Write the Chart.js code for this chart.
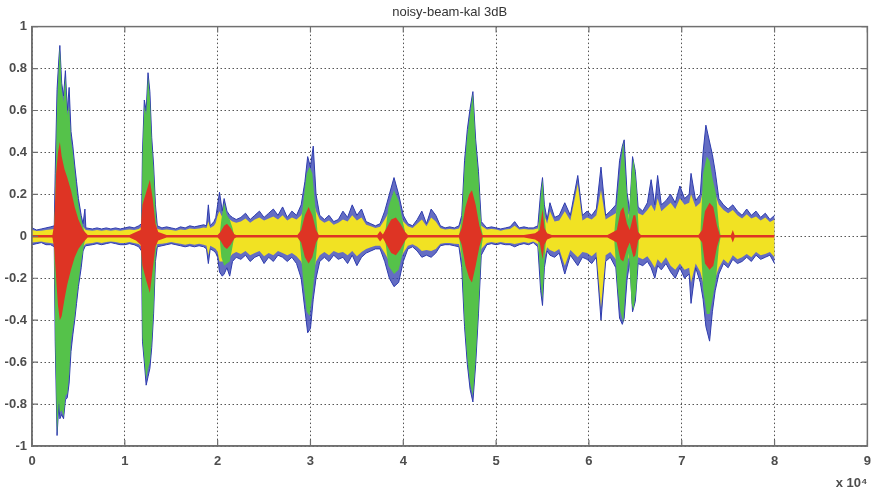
<!DOCTYPE html>
<html>
<head>
<meta charset="utf-8">
<title>noisy-beam-kal 3dB</title>
<script src="https://cdn.jsdelivr.net/npm/chart.js@4.4.0/dist/chart.umd.min.js"></script>
<style>
  html, body { margin: 0; padding: 0; background: #fff; }
  #wrap { width: 874px; height: 491px; }
</style>
</head>
<body>
<div id="wrap"><canvas id="beamChart" width="874" height="491"></canvas></div>
<script>
// Axis ticks (x in units of 10^4 samples)
const xTicks = [0, 1, 2, 3, 4, 5, 6, 7, 8, 9];
const yTicks = [-1, -0.8, -0.6, -0.4, -0.2, 0, 0.2, 0.4, 0.6, 0.8, 1];
const yTickLabels = ['-1', '-0.8', '-0.6', '-0.4', '-0.2', '0', '0.2', '0.4', '0.6', '0.8', '1'];

// Noisy input (blue) and beamformed (yellow) envelopes
const noiseX = [
  0, 0.05, 0.10, 0.15, 0.20, 0.24, 0.25, 0.27, 0.29, 0.30,
  0.32, 0.34, 0.36, 0.38, 0.40, 0.42, 0.44, 0.46, 0.48, 0.50,
  0.53, 0.55, 0.57, 0.58, 0.65, 0.70, 0.75, 0.80, 0.85, 0.90,
  0.95, 1.00, 1.05, 1.10, 1.15, 1.18, 1.19, 1.21, 1.23, 1.25,
  1.27, 1.29, 1.31, 1.33, 1.35, 1.40, 1.45, 1.50, 1.55, 1.60,
  1.65, 1.70, 1.75, 1.80, 1.85, 1.88, 1.90, 1.92, 1.96, 1.98,
  2.00, 2.02, 2.05, 2.07, 2.10, 2.13, 2.16, 2.20, 2.25, 2.30,
  2.35, 2.40, 2.45, 2.50, 2.55, 2.60, 2.65, 2.70, 2.75, 2.80,
  2.85, 2.90, 2.94, 2.97, 3.00, 3.03, 3.06, 3.10, 3.15, 3.20,
  3.25, 3.30, 3.35, 3.40, 3.45, 3.50, 3.55, 3.60, 3.65, 3.70,
  3.75, 3.80, 3.85, 3.90, 3.95, 4.00, 4.05, 4.10, 4.15, 4.20,
  4.25, 4.30, 4.35, 4.40, 4.45, 4.50, 4.55, 4.60, 4.63, 4.66,
  4.69, 4.72, 4.75, 4.78, 4.81, 4.84, 4.90, 4.95, 5.00, 5.05,
  5.10, 5.15, 5.20, 5.25, 5.30, 5.35, 5.40, 5.45, 5.48, 5.50,
  5.52, 5.55, 5.58, 5.63, 5.68, 5.74, 5.80, 5.88, 5.93, 5.98,
  6.03, 6.08, 6.13, 6.18, 6.23, 6.29, 6.33, 6.36, 6.38, 6.41,
  6.44, 6.47, 6.50, 6.53, 6.58, 6.63, 6.67, 6.71, 6.74, 6.78,
  6.83, 6.88, 6.93, 6.98, 7.03, 7.08, 7.10, 7.15, 7.20, 7.23,
  7.26, 7.30, 7.33, 7.36, 7.40, 7.45, 7.50, 7.55, 7.60, 7.65,
  7.70, 7.75, 7.80, 7.85, 7.90, 7.95, 8.00
];
const blueHi = [
  0.04, 0.03, 0.035, 0.04, 0.045, 0.05, 0.3, 0.7, 0.85, 0.91,
  0.73, 0.67, 0.79, 0.6, 0.71, 0.5, 0.43, 0.34, 0.26, 0.18,
  0.1, 0.06, 0.13, 0.04, 0.035, 0.04, 0.035, 0.04, 0.035, 0.04,
  0.035, 0.04, 0.045, 0.04, 0.05, 0.06, 0.4, 0.65, 0.6, 0.78,
  0.69, 0.47, 0.34, 0.15, 0.05, 0.04, 0.045, 0.04, 0.035, 0.045,
  0.04, 0.05, 0.045, 0.05, 0.055, 0.05, 0.15, 0.05, 0.07, 0.09,
  0.15, 0.21, 0.12, 0.18, 0.12, 0.1, 0.09, 0.08, 0.09, 0.11,
  0.08, 0.1, 0.12, 0.09, 0.11, 0.13, 0.1, 0.14, 0.09, 0.12,
  0.1, 0.15, 0.26, 0.38, 0.33, 0.43, 0.2, 0.1, 0.08, 0.1,
  0.07, 0.08, 0.12, 0.09, 0.15, 0.1, 0.13, 0.07, 0.06, 0.05,
  0.06, 0.12, 0.2, 0.28, 0.2, 0.1, 0.06, 0.05, 0.08, 0.12,
  0.06, 0.13, 0.1, 0.05, 0.04, 0.045, 0.04, 0.05, 0.1, 0.36,
  0.51, 0.61, 0.69, 0.46, 0.31, 0.07, 0.04, 0.045, 0.04, 0.035,
  0.04, 0.045, 0.07, 0.04, 0.045, 0.04, 0.04, 0.05, 0.21, 0.28,
  0.15, 0.08, 0.16, 0.09, 0.1, 0.16, 0.1, 0.29, 0.1, 0.12,
  0.1, 0.13, 0.33, 0.1, 0.12, 0.15, 0.36, 0.43, 0.46, 0.21,
  0.12, 0.38, 0.31, 0.14, 0.12, 0.16, 0.27, 0.15, 0.29, 0.15,
  0.17, 0.2, 0.16, 0.24, 0.18, 0.2, 0.3, 0.17, 0.2, 0.4,
  0.53, 0.45, 0.39, 0.31, 0.18, 0.15, 0.13, 0.15, 0.12, 0.1,
  0.13, 0.1, 0.12, 0.09, 0.11, 0.08, 0.1
];
const blueLo = [
  -0.04, -0.035, -0.03, -0.04, -0.04, -0.05, -0.5, -0.95, -0.8, -0.87,
  -0.85, -0.87, -0.78, -0.77, -0.7, -0.55, -0.47, -0.4, -0.32, -0.24,
  -0.15, -0.07, -0.05, -0.045, -0.04, -0.035, -0.04, -0.035, -0.03, -0.035,
  -0.04, -0.04, -0.035, -0.04, -0.05, -0.07, -0.5, -0.6, -0.71, -0.67,
  -0.63, -0.53, -0.37, -0.12, -0.05, -0.045, -0.04, -0.035, -0.04, -0.045,
  -0.05, -0.045, -0.05, -0.045, -0.05, -0.06, -0.13, -0.06, -0.07, -0.08,
  -0.1, -0.17, -0.19, -0.18, -0.15, -0.19, -0.12, -0.1, -0.11, -0.09,
  -0.12, -0.1, -0.09, -0.13, -0.1, -0.12, -0.09, -0.1, -0.12, -0.1,
  -0.13, -0.2, -0.35, -0.46, -0.44, -0.3, -0.2, -0.12, -0.1, -0.12,
  -0.09, -0.11, -0.1, -0.13, -0.09, -0.14, -0.1, -0.08, -0.07, -0.06,
  -0.06, -0.12, -0.2, -0.24, -0.22, -0.12, -0.06, -0.05, -0.07, -0.1,
  -0.09, -0.1, -0.08, -0.045, -0.04, -0.04, -0.045, -0.05, -0.15, -0.43,
  -0.61, -0.73, -0.79, -0.61, -0.37, -0.09, -0.04, -0.035, -0.04, -0.035,
  -0.04, -0.04, -0.05, -0.04, -0.035, -0.04, -0.03, -0.05, -0.26, -0.33,
  -0.15, -0.07, -0.09, -0.1, -0.08, -0.18, -0.09, -0.14, -0.1, -0.11,
  -0.13, -0.1, -0.4, -0.12, -0.1, -0.15, -0.39, -0.42, -0.39, -0.21,
  -0.12, -0.36, -0.31, -0.13, -0.14, -0.12, -0.15, -0.2, -0.14, -0.16,
  -0.13, -0.17, -0.2, -0.15, -0.2, -0.18, -0.32, -0.15, -0.22, -0.3,
  -0.43, -0.5, -0.36, -0.26, -0.18, -0.13, -0.15, -0.11, -0.13, -0.12,
  -0.1, -0.12, -0.09, -0.11, -0.1, -0.09, -0.13
];
const yellowHi = [
  0.03, 0.025, 0.027, 0.03, 0.033, 0.035, 0.15, 0.4, 0.5, 0.5,
  0.45, 0.4, 0.4, 0.35, 0.35, 0.3, 0.25, 0.2, 0.15, 0.1,
  0.06, 0.045, 0.035, 0.03, 0.027, 0.03, 0.027, 0.03, 0.027, 0.03,
  0.027, 0.03, 0.033, 0.03, 0.035, 0.045, 0.2, 0.3, 0.3, 0.35,
  0.3, 0.25, 0.18, 0.08, 0.035, 0.03, 0.033, 0.03, 0.027, 0.033,
  0.03, 0.037, 0.035, 0.037, 0.042, 0.04, 0.07, 0.04, 0.05, 0.065,
  0.1, 0.12, 0.09, 0.12, 0.09, 0.08, 0.07, 0.065, 0.07, 0.085,
  0.065, 0.08, 0.09, 0.075, 0.085, 0.095, 0.08, 0.1, 0.075, 0.09,
  0.08, 0.1, 0.14, 0.17, 0.17, 0.17, 0.12, 0.08, 0.065, 0.075,
  0.055, 0.065, 0.08, 0.07, 0.1, 0.075, 0.09, 0.055, 0.048, 0.04,
  0.045, 0.08, 0.12, 0.14, 0.12, 0.07, 0.048, 0.04, 0.06, 0.08,
  0.048, 0.09, 0.07, 0.038, 0.032, 0.035, 0.032, 0.037, 0.07, 0.17,
  0.22, 0.27, 0.27, 0.22, 0.17, 0.05, 0.032, 0.035, 0.032, 0.027,
  0.032, 0.035, 0.05, 0.032, 0.035, 0.032, 0.032, 0.037, 0.12, 0.14,
  0.1, 0.06, 0.12, 0.07, 0.075, 0.12, 0.075, 0.25, 0.075, 0.09,
  0.08, 0.1, 0.22, 0.08, 0.095, 0.11, 0.17, 0.17, 0.17, 0.12,
  0.095, 0.14, 0.14, 0.11, 0.1, 0.125, 0.15, 0.12, 0.18, 0.12,
  0.14, 0.16, 0.13, 0.18, 0.15, 0.16, 0.2, 0.14, 0.16, 0.22,
  0.27, 0.27, 0.24, 0.2, 0.15, 0.125, 0.11, 0.125, 0.1, 0.085,
  0.105, 0.085, 0.095, 0.075, 0.09, 0.068, 0.08
];
const yellowLo = [
  -0.03, -0.027, -0.025, -0.03, -0.032, -0.035, -0.3, -0.6, -0.5, -0.5,
  -0.5, -0.5, -0.45, -0.4, -0.35, -0.3, -0.25, -0.2, -0.15, -0.12,
  -0.08, -0.05, -0.04, -0.035, -0.032, -0.027, -0.032, -0.027, -0.025, -0.027,
  -0.032, -0.032, -0.027, -0.032, -0.037, -0.05, -0.25, -0.3, -0.35, -0.35,
  -0.3, -0.25, -0.18, -0.07, -0.037, -0.035, -0.032, -0.027, -0.032, -0.035,
  -0.04, -0.035, -0.04, -0.035, -0.04, -0.045, -0.09, -0.045, -0.055, -0.06,
  -0.075, -0.12, -0.12, -0.12, -0.1, -0.1, -0.085, -0.075, -0.085, -0.07,
  -0.09, -0.08, -0.07, -0.095, -0.08, -0.09, -0.07, -0.08, -0.09, -0.08,
  -0.095, -0.12, -0.17, -0.22, -0.22, -0.17, -0.12, -0.09, -0.075, -0.09,
  -0.07, -0.08, -0.075, -0.09, -0.07, -0.095, -0.075, -0.06, -0.052, -0.045,
  -0.045, -0.08, -0.12, -0.14, -0.12, -0.08, -0.045, -0.038, -0.05, -0.07,
  -0.065, -0.07, -0.06, -0.035, -0.032, -0.032, -0.035, -0.037, -0.1, -0.22,
  -0.27, -0.32, -0.32, -0.27, -0.17, -0.06, -0.032, -0.027, -0.032, -0.027,
  -0.032, -0.032, -0.037, -0.032, -0.027, -0.032, -0.025, -0.037, -0.14, -0.16,
  -0.1, -0.052, -0.065, -0.075, -0.06, -0.14, -0.065, -0.1, -0.075, -0.08,
  -0.095, -0.075, -0.34, -0.09, -0.075, -0.11, -0.17, -0.17, -0.17, -0.12,
  -0.09, -0.14, -0.14, -0.1, -0.11, -0.095, -0.12, -0.15, -0.11, -0.13,
  -0.1, -0.14, -0.16, -0.13, -0.16, -0.15, -0.22, -0.13, -0.17, -0.22,
  -0.27, -0.32, -0.25, -0.2, -0.15, -0.11, -0.13, -0.09, -0.11, -0.1,
  -0.085, -0.1, -0.075, -0.09, -0.085, -0.075, -0.1
];

// Green bursts (speech segments)
const greenX = [
  0, 0.22, 0.24, 0.25, 0.27, 0.29, 0.30, 0.32, 0.34, 0.36,
  0.38, 0.40, 0.42, 0.44, 0.46, 0.48, 0.50, 0.53, 0.56, 0.58,
  1.15, 1.18, 1.19, 1.21, 1.23, 1.25, 1.27, 1.29, 1.31, 1.33,
  1.35, 2.02, 2.04, 2.07, 2.10, 2.13, 2.16, 2.18, 2.88, 2.92,
  2.96, 2.99, 3.02, 3.05, 3.08, 3.80, 3.84, 3.90, 3.95, 4.00,
  4.03, 4.60, 4.63, 4.66, 4.69, 4.72, 4.75, 4.78, 4.81, 4.84,
  4.86, 5.45, 5.48, 5.50, 5.52, 5.54, 6.27, 6.31, 6.34, 6.37,
  6.40, 6.43, 6.46, 6.48, 6.51, 6.54, 7.20, 7.23, 7.27, 7.30,
  7.33, 7.37, 7.40, 7.42, 8.00
];
const greenHi = [
  0, 0, 0.03, 0.2, 0.62, 0.82, 0.9, 0.7, 0.64, 0.76,
  0.58, 0.62, 0.46, 0.4, 0.31, 0.22, 0.15, 0.08, 0.03, 0,
  0, 0.03, 0.38, 0.62, 0.58, 0.76, 0.66, 0.44, 0.31, 0.13,
  0, 0, 0.08, 0.16, 0.1, 0.08, 0.04, 0, 0, 0.15,
  0.3, 0.33, 0.3, 0.15, 0, 0, 0.14, 0.22, 0.17, 0.06,
  0, 0, 0.08, 0.32, 0.48, 0.58, 0.68, 0.43, 0.28, 0.04,
  0, 0, 0.18, 0.27, 0.12, 0, 0, 0.2, 0.33, 0.45,
  0.25, 0.08, 0.3, 0.37, 0.25, 0, 0, 0.3, 0.38, 0.36,
  0.28, 0.2, 0.05, 0, 0
];
const greenLo = [
  0, 0, -0.03, -0.48, -0.94, -0.78, -0.84, -0.83, -0.86, -0.76,
  -0.75, -0.66, -0.5, -0.44, -0.38, -0.29, -0.22, -0.12, -0.04, 0,
  0, -0.05, -0.48, -0.58, -0.68, -0.63, -0.6, -0.5, -0.34, -0.1,
  0, 0, -0.1, -0.14, -0.13, -0.12, -0.05, 0, 0, -0.2,
  -0.36, -0.38, -0.28, -0.15, 0, 0, -0.14, -0.18, -0.16, -0.07,
  0, 0, -0.1, -0.4, -0.58, -0.7, -0.76, -0.58, -0.34, -0.06,
  0, 0, -0.22, -0.3, -0.12, 0, 0, -0.25, -0.36, -0.41,
  -0.2, -0.08, -0.32, -0.35, -0.25, 0, 0, -0.25, -0.37, -0.37,
  -0.3, -0.2, -0.05, 0, 0
];

// Red (Kalman output)
const redX = [
  0, 0.22, 0.24, 0.26, 0.28, 0.30, 0.32, 0.35, 0.38, 0.42,
  0.46, 0.50, 0.55, 0.60, 1.05, 1.12, 1.17, 1.19, 1.23, 1.27,
  1.30, 1.33, 1.36, 1.45, 2.00, 2.03, 2.07, 2.10, 2.14, 2.18,
  2.20, 2.86, 2.90, 2.94, 2.98, 3.02, 3.06, 3.09, 3.72, 3.75,
  3.78, 3.82, 3.87, 3.92, 3.97, 4.02, 4.05, 4.60, 4.63, 4.67,
  4.71, 4.74, 4.78, 4.82, 4.85, 5.30, 5.42, 5.47, 5.50, 5.52,
  5.55, 5.60, 6.20, 6.30, 6.34, 6.37, 6.41, 6.44, 6.48, 6.50,
  6.53, 6.56, 7.18, 7.22, 7.25, 7.30, 7.34, 7.38, 7.41, 7.53,
  7.55, 7.57, 8.00
];
const redHi = [
  0.006, 0.006, 0.06, 0.3, 0.4, 0.45, 0.38, 0.32, 0.28, 0.22,
  0.14, 0.08, 0.03, 0.006, 0.006, 0.02, 0.03, 0.15, 0.21, 0.27,
  0.18, 0.06, 0.02, 0.006, 0.006, 0.02, 0.05, 0.06, 0.04, 0.01,
  0.006, 0.006, 0.03, 0.1, 0.14, 0.1, 0.03, 0.006, 0.006, 0.025,
  0.008, 0.04, 0.08, 0.09, 0.06, 0.02, 0.006, 0.006, 0.04, 0.14,
  0.2, 0.22, 0.15, 0.05, 0.006, 0.006, 0.015, 0.03, 0.13, 0.04,
  0.015, 0.006, 0.006, 0.03, 0.12, 0.14, 0.06, 0.03, 0.1, 0.1,
  0.02, 0.006, 0.006, 0.03, 0.12, 0.16, 0.14, 0.05, 0.006, 0.006,
  0.03, 0.006, 0.006
];
const redLo = [
  -0.006, -0.006, -0.06, -0.2, -0.33, -0.4, -0.38, -0.3, -0.23, -0.16,
  -0.1, -0.06, -0.03, -0.006, -0.006, -0.02, -0.04, -0.14, -0.21, -0.27,
  -0.16, -0.05, -0.02, -0.006, -0.006, -0.02, -0.05, -0.06, -0.04, -0.01,
  -0.006, -0.006, -0.03, -0.1, -0.13, -0.1, -0.03, -0.006, -0.006, -0.025,
  -0.008, -0.04, -0.08, -0.09, -0.06, -0.02, -0.006, -0.006, -0.04, -0.14,
  -0.2, -0.22, -0.14, -0.05, -0.006, -0.006, -0.015, -0.03, -0.11, -0.04,
  -0.015, -0.006, -0.006, -0.03, -0.11, -0.12, -0.06, -0.03, -0.1, -0.09,
  -0.02, -0.006, -0.006, -0.03, -0.13, -0.16, -0.14, -0.05, -0.006, -0.006,
  -0.03, -0.006, -0.006
];

// hi line filled down to lo line
function band(xs, hi, lo, fillColor, lineColor, lineWidth, order) {
  const common = { pointRadius: 0, tension: 0, order, borderWidth: lineWidth,
                   borderColor: lineColor || 'rgba(0,0,0,0)' };
  return [
    { ...common, data: xs.map((x, i) => ({ x, y: hi[i] })), fill: '+1', backgroundColor: fillColor },
    { ...common, data: xs.map((x, i) => ({ x, y: lo[i] })), fill: false }
  ];
}

const tickFont = { family: "'Liberation Sans', Arial, sans-serif", size: 13, weight: 'bold' };

// MATLAB-like box with inward ticks
const frameBox = {
  id: 'frameBox',
  afterDraw(chart) {
    const { ctx, chartArea: a, scales } = chart;
    ctx.save();
    ctx.setLineDash([]);
    ctx.strokeStyle = '#707070';
    ctx.lineWidth = 1.5;
    ctx.strokeRect(a.left, a.top, a.right - a.left, a.bottom - a.top);
    ctx.lineWidth = 1.2;
    ctx.beginPath();
    xTicks.forEach(v => {
      const px = scales.x.getPixelForValue(v);
      ctx.moveTo(px, a.bottom); ctx.lineTo(px, a.bottom - 6);
      ctx.moveTo(px, a.top); ctx.lineTo(px, a.top + 6);
    });
    yTicks.forEach(v => {
      const py = scales.y.getPixelForValue(v);
      ctx.moveTo(a.left, py); ctx.lineTo(a.left + 6, py);
      ctx.moveTo(a.right, py); ctx.lineTo(a.right - 6, py);
    });
    ctx.stroke();
    ctx.restore();
  }
};

new Chart(document.getElementById('beamChart').getContext('2d'), {
  type: 'line',
  data: {
    datasets: [
      ...band(noiseX, blueHi, blueLo, 'rgba(48,60,175,0.75)', '#2e3cae', 1, 4),
      ...band(noiseX, yellowHi, yellowLo, '#f1e223', null, 0, 3),
      ...band(greenX, greenHi, greenLo, '#55c24a', null, 0, 2),
      ...band(redX, redHi, redLo, '#de3424', null, 0, 1)
    ]
  },
  options: {
    responsive: false,
    devicePixelRatio: 1,
    animation: false,
    events: [],
    layout: { padding: { left: 0, right: 0, top: 0, bottom: 0 } },
    plugins: {
      legend: { display: false },
      tooltip: { enabled: false },
      title: {
        display: true,
        fullSize: false,
        text: 'noisy-beam-kal 3dB',
        color: '#333',
        font: { family: tickFont.family, size: 13, weight: 'normal' },
        padding: { top: 5, bottom: 6 }
      }
    },
    scales: {
      x: {
        type: 'linear', min: 0, max: 9,
        afterBuildTicks: s => { s.ticks = xTicks.map(v => ({ value: v })); },
        afterFit: s => { s.height = 45; },
        ticks: { color: '#4d4d4d', font: tickFont, padding: 3, maxRotation: 0, autoSkip: false },
        grid: { color: '#555', lineWidth: 1, drawTicks: true, tickLength: 5, tickColor: 'rgba(0,0,0,0)' },
        border: { display: true, color: '#707070', width: 1.5, dash: [1.5, 2.5] },
        title: { display: true, text: 'x 10⁴', align: 'end', color: '#4d4d4d',
                 font: { family: tickFont.family, size: 13, weight: 'bold' }, padding: 0 }
      },
      y: {
        min: -1, max: 1,
        afterBuildTicks: s => { s.ticks = yTicks.map(v => ({ value: v })); },
        afterFit: s => { s.width = 32; },
        ticks: { color: '#4d4d4d', font: tickFont, padding: 5, autoSkip: false,
                 callback: (v, i) => yTickLabels[i] },
        grid: { color: '#555', lineWidth: 1, drawTicks: false },
        border: { display: true, color: '#707070', width: 1.5, dash: [1.5, 2.5] }
      }
    }
  },
  plugins: [frameBox]
});
</script>
</body>
</html>
